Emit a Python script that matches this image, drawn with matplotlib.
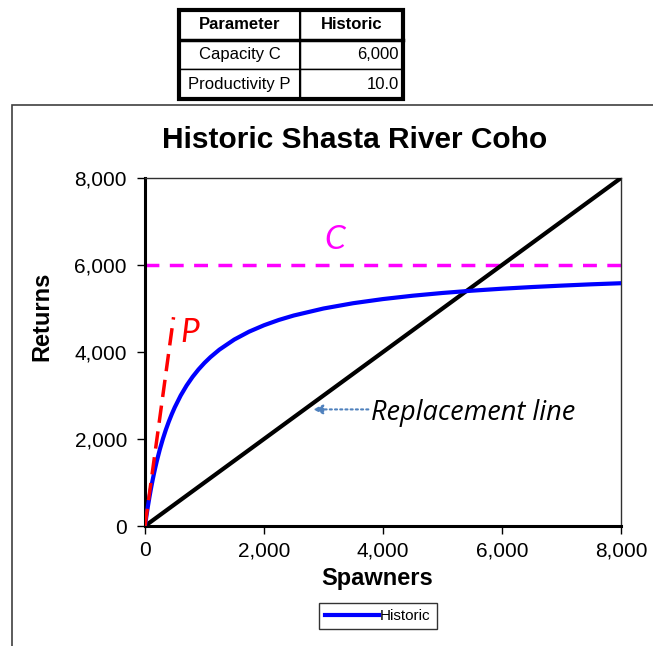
import matplotlib
matplotlib.use("Agg")
import matplotlib.pyplot as plt
from matplotlib.patches import Rectangle
from matplotlib.ticker import FuncFormatter

# Data
table_header = ["Parameter", "Historic"]
table_rows = [["Capacity C", "6,000"], ["Productivity P", "10.0"]]

spawners = [0, 25, 50, 75, 100, 125, 150, 175, 200, 250, 300, 350, 400, 450,
            500, 600, 700, 800, 900, 1000, 1100, 1250, 1500, 1750, 2000, 2250,
            2500, 3000, 3500, 4000, 4500, 5000, 5500, 6000, 6500, 7000, 7500, 8000]
returns_hist = [0, 242, 462, 667, 857, 1034, 1200, 1355, 1500, 1765, 2000, 2211,
                2400, 2571, 2727, 3000, 3231, 3429, 3600, 3750, 3882, 4054, 4286,
                4468, 4615, 4737, 4839, 5000, 5122, 5217, 5294, 5357, 5410, 5455,
                5493, 5526, 5556, 5581]
replacement_x = [0, 8000]
replacement_y = [0, 8000]
p_line_x = [0, 480]
p_line_y = [0, 4800]
c_line_x = [0, 8000]
c_line_y = [6000, 6000]
x_ticks = [0, 2000, 4000, 6000, 8000]
y_ticks = [0, 2000, 4000, 6000, 8000]

plt.rcParams['font.family'] = ['Liberation Sans', 'DejaVu Sans']

W, H = 653, 646
fig = plt.figure(figsize=(W / 100, H / 100), dpi=100)

def fx(px):
    return px / W

def fy(py):
    return 1 - py / H

# outer chart border
fig.patches.append(Rectangle((fx(12), fy(700)), fx(700) - fx(12), fy(105) - fy(700),
                             transform=fig.transFigure, fill=False,
                             edgecolor='#404040', lw=1.2))

# Table
tab_ax = fig.add_axes([fx(179), fy(99), fx(403) - fx(179), fy(10) - fy(99)])
tab_ax.set_axis_off()
cells = [table_header] + table_rows
tbl = tab_ax.table(cellText=cells, cellLoc='center', loc='upper left',
                   bbox=[0, 0, 1, 1])
tw = 403 - 179
tbl.auto_set_font_size(False)
for (r, c), cell in tbl.get_celld().items():
    cell.set_width((300 - 179) / tw if c == 0 else (403 - 300) / tw)
    cell.set_linewidth(1.0)
    cell.set_edgecolor('black')
    t = cell.get_text()
    t.set_fontsize(12)
    if r == 0:
        t.set_fontweight('bold')
    elif c == 1:
        t.set_horizontalalignment('right')
        cell.PAD = 0.04
# thick outer border of table
tab_ax.add_patch(Rectangle((0, 0), 1, 1, transform=tab_ax.transAxes, fill=False,
                           edgecolor='black', lw=3, clip_on=False, zorder=5))
tab_ax.plot([0, 1], [2/3, 2/3], transform=tab_ax.transAxes, color='black', lw=2.5,
            clip_on=False, zorder=5)
tab_ax.plot([(300 - 179) / tw] * 2, [0, 1], transform=tab_ax.transAxes, color='black',
            lw=1.5, clip_on=False, zorder=5)

# Main axes
ax = fig.add_axes([fx(145), fy(526), fx(621) - fx(145), fy(178) - fy(526)])
ax.plot(replacement_x, replacement_y, color='black', lw=3, zorder=3)
ax.plot(c_line_x, c_line_y, color='#FF00FF', lw=2.5, dashes=(4, 3), zorder=2)
ax.plot(spawners, returns_hist, color='#0000FF', lw=3, zorder=4, label='Historic',
        solid_joinstyle='round')
ax.plot(p_line_x, p_line_y, color='#FF0000', lw=2.5, dashes=(5, 2.5), zorder=5)

ax.set_xlim(0, 8000)
ax.set_ylim(0, 8000)
ax.set_xticks(x_ticks)
ax.set_yticks(y_ticks)
fmt = FuncFormatter(lambda v, p: f"{int(v):,}")
ax.xaxis.set_major_formatter(fmt)
ax.yaxis.set_major_formatter(fmt)
ax.tick_params(axis='both', direction='out', length=6, width=1, labelsize=15,
               colors='black', pad=5)
ax.tick_params(axis='y', pad=7)
for side in ['left', 'bottom']:
    ax.spines[side].set_linewidth(2.2)
for side in ['top', 'right']:
    ax.spines[side].set_linewidth(1.0)
    ax.spines[side].set_color('#303030')

ax.set_xlabel('Spawners', fontsize=17, fontweight='bold')
ax.xaxis.set_label_coords((377 - 145) / 476, (526 - 578) / 348)
ax.xaxis.label.set_va('center')
ax.set_ylabel('Returns', fontsize=17, fontweight='bold')
ax.yaxis.set_label_coords((42 - 145) / 476, (526 - 316) / 348)
ax.yaxis.label.set_va('center')
fig.text(fx(355), fy(140), 'Historic Shasta River Coho', fontsize=21.5,
         fontweight='bold', ha='center', va='center')

ax.text(3193, 6575, 'C', color='#FF00FF', fontsize=24, style='italic',
        family=['Lato', 'DejaVu Sans'], ha='center', va='center')
ax.text(756, 4437, 'P', color='#FF0000', fontsize=24, style='italic',
        family=['Lato', 'DejaVu Sans'], ha='center', va='center')
ax.annotate('', xy=(2780, 2680), xytext=(3800, 2680),
            arrowprops=dict(arrowstyle='-|>', color='#4F81BD', lw=1.5,
                            linestyle=(0, (1, 1.5)), mutation_scale=14))
ax.text(3800, 2600, 'Replacement line', fontsize=19.5, style='italic',
        family=['Open Sans', 'DejaVu Sans'], ha='left', va='center')

leg = ax.legend(loc='center', bbox_to_anchor=(fx(378), fy(616)),
                bbox_transform=fig.transFigure, fontsize=11, frameon=True,
                fancybox=False, edgecolor='black', handlelength=3.5,
                handletextpad=0.1, borderpad=0.4)
leg.get_frame().set_linewidth(1.0)

fig.savefig('out.png', dpi=100)
